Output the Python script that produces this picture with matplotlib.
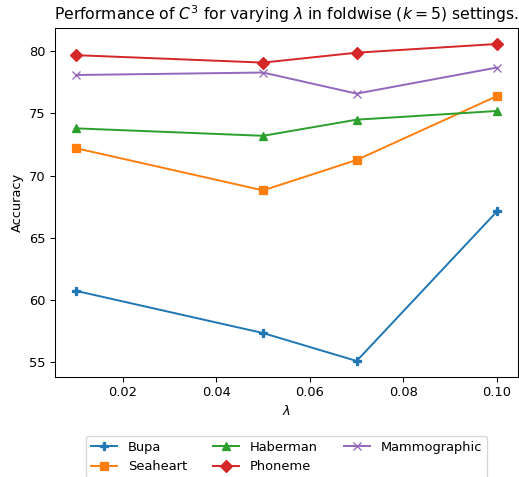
import matplotlib
matplotlib.use('Agg')
import matplotlib.pyplot as plt

lambdas = [0.01, 0.05, 0.07, 0.1]
bupa = [60.7, 57.3, 55.05, 67.1]
seaheart = [72.2, 68.8, 71.25, 76.4]
haberman = [73.8, 73.2, 74.5, 75.2]
phoneme = [79.7, 79.1, 79.9, 80.6]
mammographic = [78.1, 78.3, 76.6, 78.7]

series = [('Bupa', bupa, 'P'), ('Seaheart', seaheart, 's'),
          ('Haberman', haberman, '^'), ('Phoneme', phoneme, 'D'),
          ('Mammographic', mammographic, 'x')]

dpi = 94
fig, ax = plt.subplots(figsize=(519 / dpi, 477 / dpi), dpi=dpi)
for name, vals, m in series:
  ax.plot(lambdas, vals, marker=m, label=name)
ax.set_xlabel(r'$\lambda$')
ax.set_ylabel('Accuracy')
ax.set_title(r'Performance of $C^3$ for varying $\lambda$ in foldwise ($k=5$) settings.')
plt.subplots_adjust(left=0.106, right=0.998, top=0.941, bottom=0.21)
ax.legend(loc='upper center', bbox_to_anchor=(0.5, -0.15), ncol=3)
plt.savefig('out.png', dpi=dpi)
